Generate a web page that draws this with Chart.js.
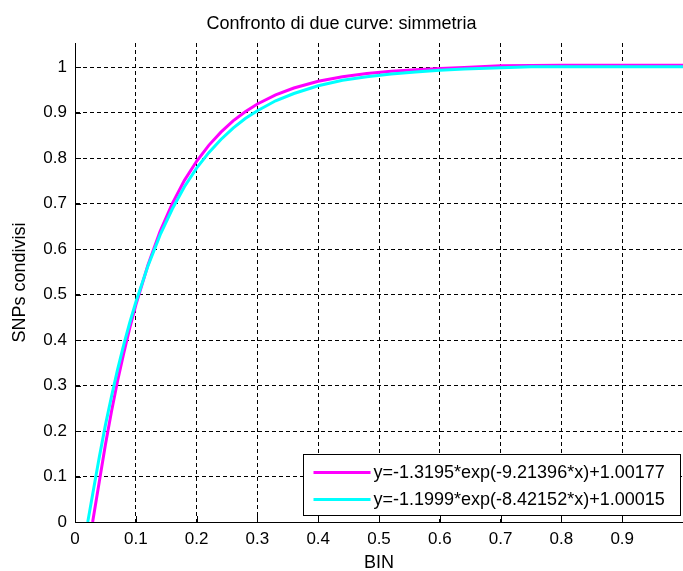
<!DOCTYPE html>
<html>
<head>
<meta charset="utf-8">
<script src="https://cdn.jsdelivr.net/npm/chart.js@4"></script>
<style>
  body { margin: 0; background: #fff; }
  canvas { display: block; }
</style>
</head>
<body>
<canvas id="curveChart" width="683" height="571"></canvas>
<script>
// values
const magentaX = [0.029, 0.04, 0.05, 0.06, 0.07, 0.08, 0.09, 0.10, 0.12, 0.14, 0.16, 0.18, 0.20, 0.22, 0.24, 0.26, 0.28, 0.30, 0.33, 0.36, 0.40, 0.44, 0.48, 0.52, 0.56, 0.60, 0.64, 0.70, 0.80, 0.90, 1.00];
const magentaY = [0.000, 0.089, 0.170, 0.243, 0.310, 0.370, 0.426, 0.477, 0.565, 0.639, 0.700, 0.751, 0.793, 0.828, 0.857, 0.882, 0.902, 0.919, 0.939, 0.954, 0.969, 0.979, 0.986, 0.991, 0.994, 0.997, 0.999, 1.003, 1.004, 1.004, 1.004];
const cyanX = [0.021, 0.03, 0.04, 0.05, 0.06, 0.07, 0.08, 0.09, 0.10, 0.12, 0.14, 0.16, 0.18, 0.20, 0.22, 0.24, 0.26, 0.28, 0.30, 0.33, 0.36, 0.40, 0.44, 0.48, 0.52, 0.56, 0.60, 0.64, 0.75, 0.80, 0.90, 1.00];
const cyanY = [0.000, 0.068, 0.143, 0.213, 0.276, 0.335, 0.389, 0.438, 0.483, 0.563, 0.631, 0.688, 0.737, 0.778, 0.812, 0.841, 0.866, 0.887, 0.904, 0.926, 0.942, 0.959, 0.971, 0.979, 0.985, 0.989, 0.993, 0.996, 1.001, 1.001, 1.001, 1.001];
const seriesLabels = ['y=-1.3195*exp(-9.21396*x)+1.00177', 'y=-1.1999*exp(-8.42152*x)+1.00015'];
const xTicks = [0, 0.1, 0.2, 0.3, 0.4, 0.5, 0.6, 0.7, 0.8, 0.9, 1];
const yTicks = [0, 0.1, 0.2, 0.3, 0.4, 0.5, 0.6, 0.7, 0.8, 0.9, 1];

const FONT = "'Liberation Sans', Arial, sans-serif";
const toPoints = (xs, ys) => xs.map((x, i) => ({ x: x, y: ys[i] }));
const fmt = (v) => String(Math.round(v * 10) / 10);

// small inward tick marks like matlab
const innerTicks = {
  id: 'innerTicks',
  afterDatasetsDraw(chart) {
    const { ctx, chartArea, scales } = chart;
    ctx.save();
    ctx.strokeStyle = '#000';
    ctx.lineWidth = 1;
    ctx.beginPath();
    xTicks.forEach((v) => {
      const px = Math.round(scales.x.getPixelForValue(v)) + 0.5;
      ctx.moveTo(px, chartArea.bottom);
      ctx.lineTo(px, chartArea.bottom - 6);
    });
    yTicks.forEach((v) => {
      const py = Math.round(scales.y.getPixelForValue(v)) + 0.5;
      ctx.moveTo(chartArea.left, py);
      ctx.lineTo(chartArea.left + 6, py);
    });
    ctx.stroke();
    ctx.restore();
  }
};

// legend box inside the plot, bottom right
const boxLegend = {
  id: 'boxLegend',
  afterDraw(chart) {
    const { ctx, chartArea } = chart;
    const w = 377, h = 61;
    const bx = chartArea.right - 3 - w + 0.5;
    const by = chartArea.bottom - 7 - h + 0.5;
    ctx.save();
    ctx.fillStyle = '#fff';
    ctx.fillRect(bx, by, w, h);
    ctx.strokeStyle = '#000';
    ctx.lineWidth = 1;
    ctx.strokeRect(bx, by, w, h);
    ctx.font = '18px ' + FONT;
    ctx.textBaseline = 'middle';
    chart.data.datasets.forEach((ds, i) => {
      const ly = by + 18 + i * 27;
      ctx.strokeStyle = ds.borderColor;
      ctx.lineWidth = 3;
      ctx.beginPath();
      ctx.moveTo(bx + 10, ly);
      ctx.lineTo(bx + 67, ly);
      ctx.stroke();
      ctx.fillStyle = '#000';
      ctx.fillText(ds.label, bx + 70, ly + 1);
    });
    ctx.restore();
  }
};

const chart = new Chart(document.getElementById('curveChart'), {
  type: 'line',
  data: {
    datasets: [
      {
        label: seriesLabels[0],
        data: toPoints(magentaX, magentaY),
        borderColor: '#ff00ff',
        borderWidth: 3,
        pointRadius: 0,
        fill: false,
        order: 2
      },
      {
        label: seriesLabels[1],
        data: toPoints(cyanX, cyanY),
        borderColor: '#00ffff',
        borderWidth: 3,
        pointRadius: 0,
        fill: false,
        order: 1
      }
    ]
  },
  options: {
    responsive: false,
    animation: false,
    layout: { padding: { left: 0, right: 0, top: 0, bottom: 0 } },
    plugins: {
      legend: { display: false },
      tooltip: { enabled: false },
      title: {
        display: true,
        text: 'Confronto di due curve: simmetria',
        color: '#000',
        font: { family: FONT, size: 18, weight: 'normal' },
        padding: { top: 13, bottom: 8.4 }
      }
    },
    scales: {
      x: {
        type: 'linear',
        min: 0,
        max: 1,
        afterBuildTicks: (scale) => { scale.ticks = xTicks.map((v) => ({ value: v })); },
        afterFit: (scale) => {
          scale.height = 49;
          scale.paddingLeft = 0;
          scale.paddingRight = 0;
        },
        ticks: {
          color: '#000',
          font: { family: FONT, size: 17 },
          padding: 7,
          maxRotation: 0,
          autoSkip: false,
          // the label at 1 falls outside the picture
          callback: (v) => (v === 1 ? '' : fmt(v))
        },
        grid: { color: '#000', lineWidth: 1, drawTicks: false },
        border: { display: true, color: '#000', width: 1, dash: [4, 3] },
        title: {
          display: true,
          text: 'BIN',
          color: '#000',
          font: { family: FONT, size: 18 },
          padding: { top: 0, bottom: -3 }
        }
      },
      y: {
        type: 'linear',
        min: 0,
        max: 1.053,
        afterBuildTicks: (scale) => { scale.ticks = yTicks.map((v) => ({ value: v })); },
        afterFit: (scale) => {
          scale.width = 75;
          scale.paddingTop = 0;
          scale.paddingBottom = 0;
        },
        ticks: {
          color: '#000',
          font: { family: FONT, size: 17 },
          padding: 8,
          autoSkip: false,
          callback: (v) => fmt(v)
        },
        grid: { color: '#000', lineWidth: 1, drawTicks: false },
        border: { display: true, color: '#000', width: 1, dash: [4, 3] },
        title: {
          display: true,
          text: 'SNPs condivisi',
          color: '#000',
          font: { family: FONT, size: 18 },
          padding: { top: 9, bottom: 0 }
        }
      }
    }
  },
  plugins: [innerTicks, boxLegend]
});
</script>
</body>
</html>
